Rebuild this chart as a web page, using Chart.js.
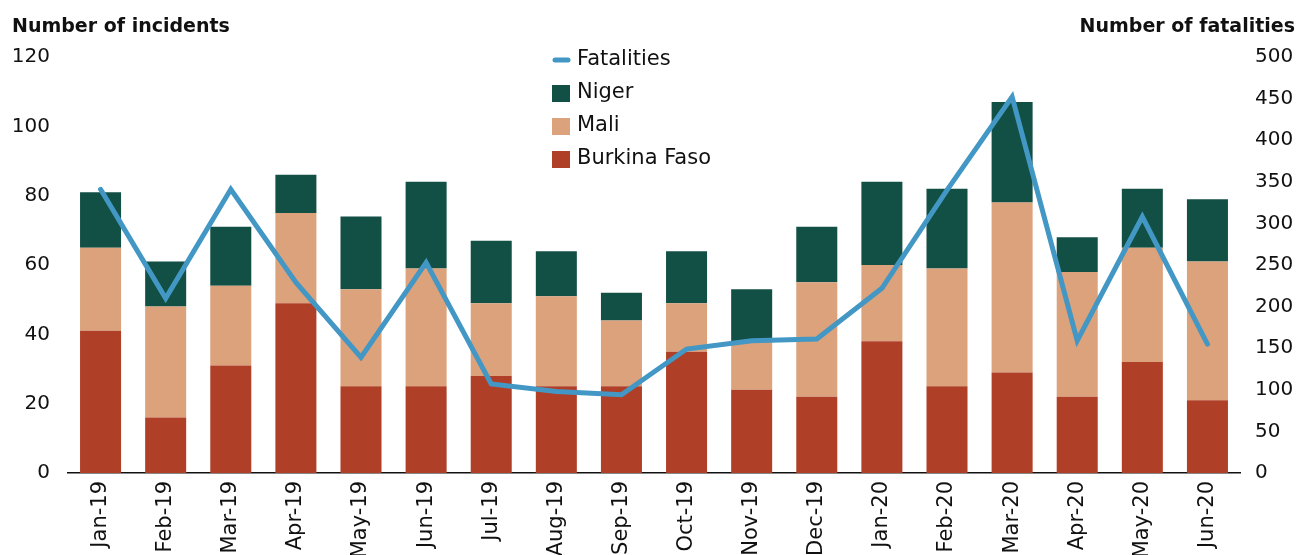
<!DOCTYPE html>
<html lang="en">
<head>
  <meta charset="UTF-8" />
  <title>Sahel | Incidents and fatalities</title>
  <script src="https://cdn.jsdelivr.net/npm/chart.js"></script>
  <style>
    body { margin: 0; background: #fff; }
    #wrap { width: 1298px; height: 555px; }
  </style>
</head>
<body>
  <div id="wrap"><canvas id="incChart" width="1298" height="555"></canvas></div>

  <script>
    const months = ['Jan-19', 'Feb-19', 'Mar-19', 'Apr-19', 'May-19', 'Jun-19', 'Jul-19', 'Aug-19', 'Sep-19',
      'Oct-19', 'Nov-19', 'Dec-19', 'Jan-20', 'Feb-20', 'Mar-20', 'Apr-20', 'May-20', 'Jun-20'];
    const burkinaFaso = [41, 16, 31, 49, 25, 25, 28, 25, 25, 35, 24, 22, 38, 25, 29, 22, 32, 21];
    const mali        = [24, 32, 23, 26, 28, 34, 21, 26, 19, 14, 14, 33, 22, 34, 49, 36, 33, 40];
    const niger       = [16, 13, 17, 11, 21, 25, 18, 13, 8, 15, 15, 16, 24, 23, 29, 10, 17, 18];
    const fatalities  = [341, 210, 341, 229, 139, 253, 107, 98, 94, 149, 159, 161, 222, 340, 452, 159, 308, 155];
    const incidentTicks = [0, 20, 40, 60, 80, 100, 120];
    const fatalityTicks = [0, 50, 100, 150, 200, 250, 300, 350, 400, 450, 500];

    const FONT = '"DejaVu Sans", sans-serif';
    const colors = { bf: '#b03f28', mali: '#dba27c', niger: '#124f45', line: '#4297c4', text: '#111' };

    // axis titles + legend drawn straight on the canvas
    const overlay = {
      id: 'overlay',
      afterDraw(chart) {
        const ctx = chart.ctx;
        ctx.save();
        ctx.fillStyle = colors.text;
        ctx.textBaseline = 'middle';
        ctx.font = `bold 19px ${FONT}`;
        ctx.textAlign = 'left';
        ctx.fillText('Number of incidents', 12, 27);
        ctx.textAlign = 'right';
        ctx.fillText('Number of fatalities', 1295, 27);

        const lx = 552, ly = 60, step = 33;
        ctx.strokeStyle = colors.line;
        ctx.lineWidth = 5;
        ctx.lineCap = 'round';
        ctx.beginPath();
        ctx.moveTo(lx + 3, ly);
        ctx.lineTo(lx + 16, ly);
        ctx.stroke();
        const items = [['Niger', colors.niger], ['Mali', colors.mali], ['Burkina Faso', colors.bf]];
        items.forEach(([name, c], i) => {
          ctx.fillStyle = c;
          ctx.fillRect(lx, ly + step * (i + 1) - 8, 18, 17);
        });
        ctx.fillStyle = colors.text;
        ctx.font = `21px ${FONT}`;
        ctx.textAlign = 'left';
        ctx.fillText('Fatalities', lx + 25, ly);
        items.forEach(([name], i) => ctx.fillText(name, lx + 25, ly + step * (i + 1)));
        ctx.restore();
      }
    };

    const tickFont = { family: FONT, size: 20 };

    new Chart(document.getElementById('incChart').getContext('2d'), {
      data: {
        labels: months,
        datasets: [
          {
            type: 'line', label: 'Fatalities', data: fatalities, yAxisID: 'y1', order: -1,
            borderColor: colors.line, borderWidth: 5, pointRadius: 0, tension: 0,
            borderCapStyle: 'round'
          },
          { type: 'bar', label: 'Burkina Faso', data: burkinaFaso, backgroundColor: colors.bf, yAxisID: 'y' },
          { type: 'bar', label: 'Mali', data: mali, backgroundColor: colors.mali, yAxisID: 'y' },
          { type: 'bar', label: 'Niger', data: niger, backgroundColor: colors.niger, yAxisID: 'y' }
        ]
      },
      options: {
        responsive: false,
        animation: false,
        datasets: { bar: { barPercentage: 0.63, categoryPercentage: 1 } },
        layout: { padding: { top: 57, left: 0, right: 0, bottom: 0 } },
        plugins: { legend: { display: false }, tooltip: { enabled: false } },
        scales: {
          x: {
            stacked: true,
            grid: { display: false, drawTicks: false },
            border: { display: true, color: '#111', width: 1.5 },
            ticks: { font: { family: FONT, size: 21 }, color: colors.text, maxRotation: 90, minRotation: 90, autoSkip: false, padding: 8 },
            afterFit: s => { s.height = 82; }
          },
          y: {
            stacked: true, position: 'left', min: 0, max: 120,
            grid: { display: false, drawTicks: false },
            border: { display: false },
            afterBuildTicks: s => { s.ticks = incidentTicks.map(v => ({ value: v })); },
            ticks: { font: tickFont, color: colors.text, padding: 18 },
            afterFit: s => { s.width = 68; }
          },
          y1: {
            position: 'right', min: 0, max: 500,
            grid: { display: false, drawTicks: false },
            border: { display: false },
            afterBuildTicks: s => { s.ticks = fatalityTicks.map(v => ({ value: v })); },
            ticks: { font: tickFont, color: colors.text, padding: 15 },
            afterFit: s => { s.width = 58; }
          }
        }
      },
      plugins: [overlay]
    });
  </script>
</body>
</html>
